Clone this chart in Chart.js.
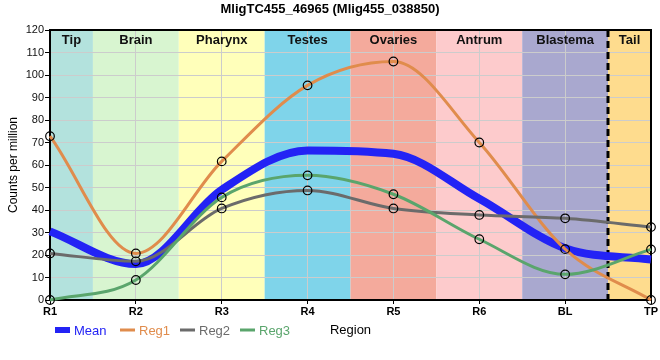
<!DOCTYPE html>
<html><head><meta charset="utf-8">
<script src="https://cdn.jsdelivr.net/npm/chart.js@4/dist/chart.umd.min.js"></script>
<style>html,body{margin:0;padding:0;background:#fff}#wrap{width:660px;height:360px;position:relative}</style>
</head><body><div id="wrap"><canvas id="c" width="660" height="360"></canvas></div>
<script>
const titleText = 'MligTC455_46965 (Mlig455_038850)';
const categories = ['R1','R2','R3','R4','R5','R6','BL','TP'];
const regionNames = ['Tip','Brain','Pharynx','Testes','Ovaries','Antrum','Blastema','Tail'];
const meanValues = [30.5, 16, 49, 66.5, 65, 45, 23, 18];
const reg1Values = [72.8, 20.7, 61.6, 95.4, 106, 70, 22.6, 0];
const reg2Values = [20.7, 17.2, 40.7, 48.7, 40.7, 37.8, 36.3, 32.4];
const reg3Values = [0, 8.9, 45.6, 55.4, 47, 27, 11.4, 22.5];
const yTicks = [0, 10, 20, 30, 40, 50, 60, 70, 80, 90, 100, 110, 120];

const regionColors = ['#b3e2dd','#d8f5d0','#ffffba','#7fd4ea','#f4aa9c','#fdcbcc','#a9a8cf','#fedc8e'];
const seriesColors = { Mean: 'rgb(35,35,245)', Reg1: '#e08c4c', Reg2: '#6b6b6b', Reg3: '#5aa56c' };
const FONT = '"Liberation Sans", Arial, sans-serif';

const bandsPlugin = {
  id: 'bands',
  beforeDraw(chart) {
    const {ctx, chartArea: a, scales: {x}} = chart;
    ctx.save();
    regionNames.forEach((name, i) => {
      const l = Math.max(a.left, x.getPixelForValue(i - 0.5));
      const r = Math.min(a.right, x.getPixelForValue(i + 0.5));
      ctx.fillStyle = regionColors[i];
      ctx.fillRect(l, a.top, r - l, a.bottom - a.top);
    });
    ctx.restore();
  },
  beforeDatasetsDraw(chart) {
    const {ctx, chartArea: a, scales: {x}} = chart;
    ctx.save();
    ctx.font = 'bold 13px ' + FONT;
    ctx.fillStyle = '#111';
    ctx.textAlign = 'center';
    ctx.textBaseline = 'middle';
    regionNames.forEach((name, i) => {
      const l = Math.max(a.left, x.getPixelForValue(i - 0.5));
      const r = Math.min(a.right, x.getPixelForValue(i + 0.5));
      ctx.fillText(name, (l + r) / 2, a.top + 10);
    });
    const dx = Math.round(x.getPixelForValue(categories.length - 1.5));
    ctx.strokeStyle = '#000';
    ctx.lineWidth = 3;
    ctx.setLineDash([7, 4]);
    ctx.beginPath();
    ctx.moveTo(dx, a.top);
    ctx.lineTo(dx, a.bottom);
    ctx.stroke();
    ctx.setLineDash([]);
    ctx.lineWidth = 2;
    ctx.beginPath();
    ctx.moveTo(a.left, a.top);
    ctx.lineTo(a.right, a.top);
    ctx.lineTo(a.right, a.bottom);
    ctx.stroke();
    ctx.restore();
  },
  afterDraw(chart) {
    const {ctx, width} = chart;
    ctx.save();
    ctx.font = 'bold 13px ' + FONT;
    ctx.fillStyle = '#000';
    ctx.textAlign = 'center';
    ctx.textBaseline = 'middle';
    ctx.fillText(titleText, width / 2, 9);
    const y = 330;
    ctx.font = '13px ' + FONT;
    ctx.textAlign = 'left';
    const items = [
      {name: 'Mean', x: 55, thick: true},
      {name: 'Reg1', x: 120},
      {name: 'Reg2', x: 180},
      {name: 'Reg3', x: 240}
    ];
    items.forEach(it => {
      const c = seriesColors[it.name];
      ctx.fillStyle = c;
      if (it.thick) ctx.fillRect(it.x, y - 3, 15, 6);
      else ctx.fillRect(it.x, y - 1.5, 15, 3);
      ctx.fillText(it.name, it.x + 19, y + 1);
    });
    ctx.restore();
  }
};

function ds(label, data, width, points, order) {
  return {
    label, data, order,
    borderColor: seriesColors[label],
    backgroundColor: seriesColors[label],
    borderWidth: width,
    cubicInterpolationMode: 'monotone',
    pointRadius: points ? 4.3 : 0,
    pointHoverRadius: points ? 4.3 : 0,
    pointBorderColor: '#000',
    pointBorderWidth: 1.2,
    pointBackgroundColor: 'rgba(0,0,0,0)',
    fill: false,
    clip: false
  };
}

new Chart(document.getElementById('c'), {
  type: 'line',
  data: {
    labels: categories,
    datasets: [
      ds('Reg3', reg3Values, 3, true, 1),
      ds('Reg2', reg2Values, 3, true, 2),
      ds('Reg1', reg1Values, 3, true, 3),
      ds('Mean', meanValues, 8, false, 4)
    ]
  },
  options: {
    responsive: false,
    animation: false,
    devicePixelRatio: 1,
    layout: { padding: { top: 30, right: 9, left: 0, bottom: 0 } },
    plugins: { legend: { display: false }, title: { display: false }, tooltip: { enabled: false } },
    scales: {
      x: {
        type: 'category',
        offset: false,
        afterFit(s) { s.height = 60; },
        grid: { color: '#cccccc', lineWidth: 1, tickLength: 4, tickColor: '#000', offset: false },
        border: { color: '#000', width: 2 },
        ticks: { color: '#000', font: { family: FONT, size: 11, weight: 'bold' }, padding: 1, maxRotation: 0, autoSkip: false },
        title: { display: true, text: 'Region', color: '#000', font: { family: FONT, size: 13 }, padding: { top: 0, bottom: 22 } }
      },
      y: {
        min: 0, max: 120,
        afterFit(s) { s.width = 50; },
        afterBuildTicks(s) { s.ticks = yTicks.map(v => ({ value: v })); },
        grid: { color: '#cccccc', lineWidth: 1, tickLength: 5, tickColor: '#000' },
        border: { color: '#000', width: 2 },
        ticks: { color: '#111', font: { family: FONT, size: 11 }, padding: 1 },
        title: { display: true, text: 'Counts per million', color: '#000', font: { family: FONT, size: 12 }, padding: { top: 6, bottom: 0 } }
      }
    }
  },
  plugins: [bandsPlugin]
});
</script>
</body></html>
